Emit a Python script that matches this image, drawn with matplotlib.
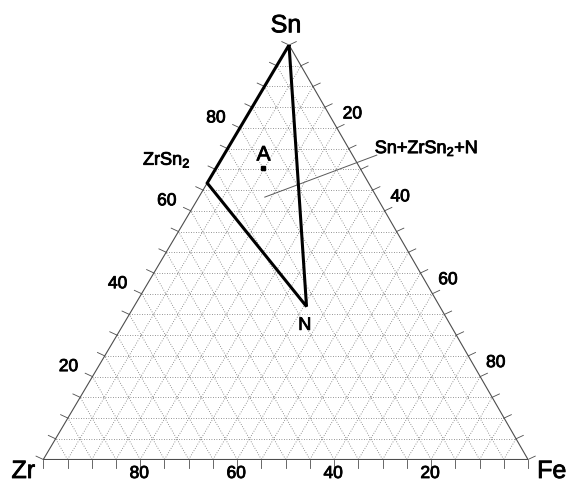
import numpy as np
import matplotlib.pyplot as plt
import matplotlib.patheffects as pe

plt.rcParams['font.family'] = ['Liberation Sans', 'DejaVu Sans']
plt.rcParams['mathtext.fontset'] = 'custom'
plt.rcParams['mathtext.rm'] = 'Liberation Sans'
plt.rcParams['mathtext.it'] = 'Liberation Sans:italic'

# compositions in at.%  (Zr, Fe, Sn)
corner_names = ['Zr', 'Fe', 'Sn']
region = [(0, 0, 100), (33.3, 0, 66.7), (27.5, 35.6, 36.9)]   # Sn - ZrSn2 - N
point_A = (20.0, 9.6, 70.4)
leader_end = (23.1, 13.6, 63.3)
tick_vals = list(range(0, 101, 5))
label_vals = [20, 40, 60, 80]

# triangle size in pixels (axes = bounding box of triangle)
W, H = 484.7, 414.5
APEX = 0.507

# slightly heavier text, like the original
heavy = [pe.withStroke(linewidth=0.6, foreground='black')]


def tern(zr, fe, sn):
    t = zr + fe + sn
    return fe / t + APEX * sn / t, sn / t


def px(dx, dy):
    return dx / W, dy / H


fig = plt.figure(figsize=(5.7, 4.82), dpi=100)
ax = fig.add_axes([43.3 / 570, 1 - 459.5 / 482, W / 570, H / 482])
ax.set_xlim(0, 1)
ax.set_ylim(0, 1)
ax.axis('off')

# dotted grid every 5 %
gkw = dict(color='0.45', lw=0.6, ls=(0, (1, 2)), zorder=1)
for v in tick_vals[1:-1]:
    for a, b in [((100 - v, 0, v), (0, 100 - v, v)),
                 ((100 - v, v, 0), (0, v, 100 - v)),
                 ((v, 100 - v, 0), (v, 0, 100 - v))]:
        p, q = tern(*a), tern(*b)
        ax.plot([p[0], q[0]], [p[1], q[1]], **gkw)

# triangle outline
tri = [tern(100, 0, 0), tern(0, 100, 0), tern(0, 0, 100), tern(100, 0, 0)]
ax.plot([p[0] for p in tri], [p[1] for p in tri], color='0.3', lw=0.8, zorder=2)

# ticks
L = 8
c30, s30 = np.cos(np.radians(25)), np.sin(np.radians(25))
for v in tick_vals:
    for pt, d in [(tern(100 - v, v, 0), (0, -L)),
                  (tern(100 - v, 0, v), (-L * c30, L * s30)),
                  (tern(0, v, 100 - v), (L * c30, L * s30))]:
        dx, dy = px(*d)
        ax.plot([pt[0], pt[0] + dx], [pt[1], pt[1] + dy], color='0.3', lw=0.6,
                clip_on=False, zorder=2)

# tick labels
fs = 12.5
for v in label_vals:
    x, y = tern(v, 100 - v, 0)
    ax.annotate(str(v), (x, y), xytext=(-1, -14), textcoords='offset pixels',
                ha='center', va='center', fontsize=fs, path_effects=heavy)
    x, y = tern(100 - v, 0, v)
    ax.annotate(str(v), (x, y), xytext=(-24, 10), textcoords='offset pixels',
                ha='center', va='center', fontsize=fs, path_effects=heavy)
    x, y = tern(0, v, 100 - v)
    ax.annotate(str(v), (x, y), xytext=(15.5, 14), textcoords='offset pixels',
                ha='center', va='center', fontsize=fs, path_effects=heavy)

# corner labels
for name, comp, off in zip(corner_names,
                           [(100, 0, 0), (0, 100, 0), (0, 0, 100)],
                           [(-20, -18.5), (23.7, -18.5), (-3, 12.7)]):
    x, y = tern(*comp)
    ax.annotate(name, (x, y), xytext=off, textcoords='offset pixels',
                ha='center', va='baseline', fontsize=18, path_effects=heavy)

# three-phase region
rx = [tern(*c)[0] for c in region + region[:1]]
ry = [tern(*c)[1] for c in region + region[:1]]
ax.plot(rx, ry, color='black', lw=2.2, solid_joinstyle='miter', zorder=4)

x, y = tern(*region[1])
ax.annotate('ZrSn$_2$', (x, y), xytext=(-16.6, 18.3), textcoords='offset pixels',
            ha='right', va='baseline', fontsize=13, path_effects=heavy)
x, y = tern(*region[2])
ax.annotate('N', (x, y), xytext=(-1.7, -23.3), textcoords='offset pixels',
            ha='center', va='baseline', fontsize=13, path_effects=heavy)

# alloy A
x, y = tern(*point_A)
ax.plot(x, y, 's', color='black', ms=3.2, zorder=5)
ax.annotate('A', (x, y), xytext=(0.7, 7.3), textcoords='offset pixels',
            ha='center', va='baseline', fontsize=15, path_effects=heavy)

# phase field label with leader line
x, y = tern(*leader_end)
dx, dy = px(112, 42)
ax.plot([x, x + dx], [y, y + dy], color='0.35', lw=0.7, clip_on=False, zorder=3)
ax.annotate('Sn+ZrSn$_2$+N', (x, y), xytext=(110, 44), textcoords='offset pixels',
            ha='left', va='baseline', fontsize=13, path_effects=heavy)

fig.savefig('out.png', dpi=100)
